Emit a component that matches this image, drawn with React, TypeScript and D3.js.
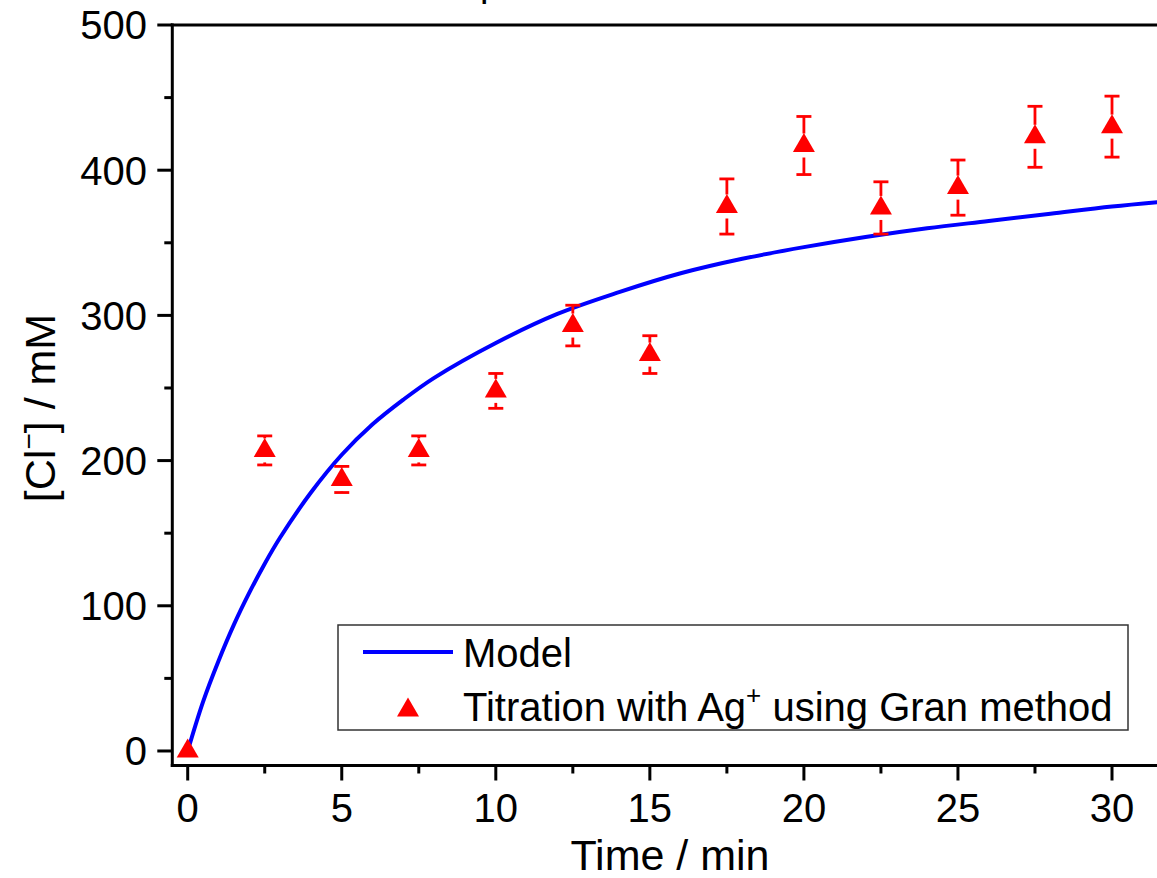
import React from "react";
import * as d3 from "d3";

const times = [0, 2.5, 5, 7.5, 10, 12.5, 15, 17.5, 20, 22.5, 25, 27.5, 30];
const titration = [0, 207, 187, 207, 248, 293, 273, 375, 417, 374, 388, 423, 430];
const titrationErr = [0, 10, 9, 10, 12, 14, 13, 19, 20, 18, 19, 21, 21];

const modelTimes = [0, 0.5, 1, 1.5, 2, 2.5, 3, 4, 5, 6, 7, 8, 10, 12, 14, 16, 18, 20, 22, 24, 26, 28, 30, 32];
const modelValues = [0, 34, 62, 87, 109, 129, 147, 178, 204, 225, 242, 257, 281, 301, 316, 329, 339, 347, 354, 360, 365, 370, 375, 379];

const xMajorTicks = [0, 5, 10, 15, 20, 25, 30];
const xMinorTicks = [2.5, 7.5, 12.5, 17.5, 22.5, 27.5, 32.5];
const yMajorTicks = [0, 100, 200, 300, 400, 500];
const yMinorTicks = [50, 150, 250, 350, 450];

const W = 1157;
const H = 878;
const FONT = "Liberation Sans, Arial, Helvetica, sans-serif";

export default function App() {
  const x = d3.scaleLinear().domain([-0.5, 32.5]).range([172.3, 172.3 + 33 * 30.81]);
  const y = d3.scaleLinear().domain([-10, 500]).range([765.5, 25]);
  const left = x(-0.5);
  const bottom = y(-10);
  const top = y(500);
  const right = x(32.5);

  const line = d3
    .line<number>()
    .x((_, i) => x(modelTimes[i]))
    .y((d) => y(d))
    .curve(d3.curveCatmullRom.alpha(0.5));

  const tri = (cx: number, cy: number) =>
    `M${cx},${cy - 12.5} L${cx + 11},${cy + 6.5} L${cx - 11},${cy + 6.5} Z`;

  return (
    <div style={{ position: "absolute", left: 0, top: 0, width: W, height: H, overflow: "hidden", background: "#fff" }}>
      <svg width={W} height={H} style={{ display: "block", fontFamily: FONT }}>
        <rect x={0} y={0} width={W} height={H} fill="#fff" />
        {/* partially visible title */}
        <text x={480} y={-4} fontSize={38} fill="#000">p</text>

        {/* model line */}
        <path d={line(modelValues) || ""} fill="none" stroke="#0000FF" strokeWidth={4} />

        {/* error bars */}
        {times.map((t, i) => {
          const cx = x(t);
          const cy = y(titration[i]);
          const yt = y(titration[i] + titrationErr[i]);
          const yb = y(titration[i] - titrationErr[i]);
          if (titrationErr[i] === 0) return null;
          return (
            <g key={"e" + i} stroke="#FF0000" strokeWidth={2.8}>
              {yt < cy - 12 && <line x1={cx} x2={cx} y1={yt} y2={cy - 12} />}
              {yb > cy + 12 && <line x1={cx} x2={cx} y1={cy + 12} y2={yb} />}
              <line x1={cx - 7.5} x2={cx + 7.5} y1={yt} y2={yt} />
              <line x1={cx - 7.5} x2={cx + 7.5} y1={yb} y2={yb} />
            </g>
          );
        })}
        {/* markers */}
        {times.map((t, i) => (
          <path key={"m" + i} d={tri(x(t), y(titration[i]))} fill="#FF0000" />
        ))}

        {/* axes */}
        <g stroke="#000" strokeWidth={3} fill="none">
          <line x1={left} x2={left} y1={top - 1.5} y2={bottom + 1.5} />
          <line x1={left - 1.5} x2={right} y1={bottom} y2={bottom} />
          <line x1={left - 1.5} x2={right} y1={top} y2={top} />
          {yMajorTicks.map((v) => (
            <line key={"ym" + v} x1={left - 15} x2={left} y1={y(v)} y2={y(v)} />
          ))}
          {yMinorTicks.map((v) => (
            <line key={"yn" + v} x1={left - 8} x2={left} y1={y(v)} y2={y(v)} />
          ))}
          {xMajorTicks.map((v) => (
            <line key={"xm" + v} x1={x(v)} x2={x(v)} y1={bottom} y2={bottom + 15} />
          ))}
          {xMinorTicks.map((v) => (
            <line key={"xn" + v} x1={x(v)} x2={x(v)} y1={bottom} y2={bottom + 8} />
          ))}
        </g>
        <g fontSize={40} fill="#000">
          {yMajorTicks.map((v) => (
            <text key={"yl" + v} x={147} y={y(v)} dy="0.36em" textAnchor="end">
              {v}
            </text>
          ))}
          {xMajorTicks.map((v) => (
            <text key={"xl" + v} x={x(v)} y={822} textAnchor="middle">
              {v}
            </text>
          ))}
        </g>
        <text x={670} y={870} fontSize={43} textAnchor="middle" fill="#000">
          Time / min
        </text>
        <text transform="translate(55,408) rotate(-90)" fontSize={43} textAnchor="middle" fill="#000">
          [Cl<tspan fontSize={28} dy={-17}>−</tspan>
          <tspan dy={17}>] / mM</tspan>
        </text>

        {/* legend */}
        <rect x={338} y={625} width={790} height={105} fill="#fff" stroke="#333" strokeWidth={1.5} />
        <line x1={363} x2={453} y1={652} y2={652} stroke="#0000FF" strokeWidth={4} />
        <text x={463} y={667} fontSize={40} fill="#000">Model</text>
        <path d={tri(408, 710)} fill="#FF0000" />
        <text x={463} y={721} fontSize={40} fill="#000">
          Titration with Ag<tspan fontSize={26} dy={-17}>+</tspan>
          <tspan dy={17}> using Gran method</tspan>
        </text>
      </svg>
    </div>
  );
}
